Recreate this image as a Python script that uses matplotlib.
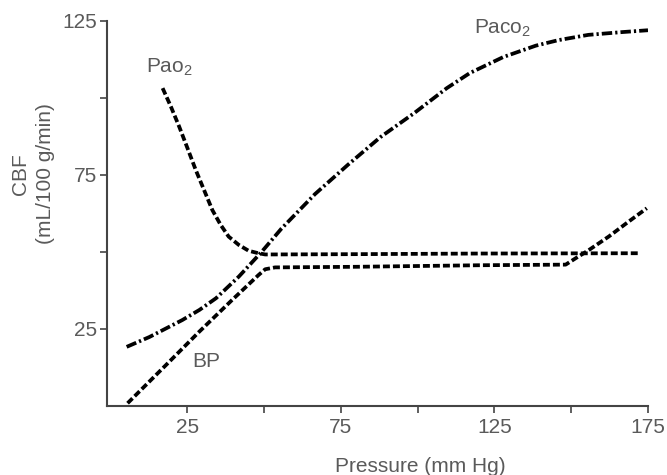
import matplotlib
matplotlib.use("Agg")
import matplotlib.pyplot as plt

# values
pao2_x = [17.0, 19.7, 22.4, 25.1, 27.8, 30.5, 33.2, 35.9, 38.5, 41.8, 45.0, 48.2, 50.4,
          80, 120, 172.5]
pao2_y = [103.2, 97.2, 90.7, 83.7, 76.6, 70.1, 63.6, 58.8, 55.0, 52.3, 50.4, 49.6, 49.2,
          49.3, 49.5, 49.6]

paco2_x = [5.3, 12.7, 23.4, 29.0, 34.4, 41.8, 49.2, 55.6, 66.6, 77.3, 87.9, 98.9, 109.5,
           117, 127.9, 138.5, 145.9, 155.6, 166.6, 175]
paco2_y = [19.2, 22.4, 27.9, 31.2, 35.0, 42.0, 50.0, 57.5, 68.8, 78.3, 87.3, 95.1, 103.2,
           108.1, 113.3, 117.0, 118.8, 120.5, 121.4, 122.0]

bp_x = [5.6, 18.1, 28.9, 39.6, 48.2, 50.4, 53.6, 80, 120, 148.2, 151.5, 155.7, 162.2,
        168.6, 174.6]
bp_y = [0.9, 13.3, 24.1, 34.4, 42.5, 44.4, 45.0, 45.2, 45.7, 45.9, 48.0, 50.6, 55.0,
        59.8, 64.2]

x_ticks = [25, 50, 75, 100, 125, 150, 175]
x_labels = ['25', '', '75', '', '125', '', '175']
y_ticks = [25, 50, 75, 100, 125]
y_labels = ['25', '', '75', '', '125']

plt.rcParams['font.family'] = ['Liberation Sans', 'DejaVu Sans']
plt.rcParams['mathtext.default'] = 'regular'
plt.rcParams['lines.scale_dashes'] = False

txt = '#5a5a5a'
fs = 15

fig = plt.figure(figsize=(6.67, 4.75), dpi=100)
ax = fig.add_axes([107 / 667, 69 / 475, (648 - 107) / 667, (454 - 69) / 475])

ax.plot(pao2_x, pao2_y, color='black', lw=2.7, dashes=(5, 2.2))
ax.plot(bp_x, bp_y, color='black', lw=2.7, dashes=(5, 2.2))
ax.plot(paco2_x, paco2_y, color='black', lw=2.7, dashes=(7.5, 2.2, 1.6, 2.2))

ax.set_xlim(-1.1, 175)
ax.set_ylim(0, 125)
ax.set_xticks(x_ticks)
ax.set_xticklabels(x_labels)
ax.set_yticks(y_ticks)
ax.set_yticklabels(y_labels)

for s in ['top', 'right']:
    ax.spines[s].set_visible(False)
for s in ['left', 'bottom']:
    ax.spines[s].set_color('#444444')
    ax.spines[s].set_linewidth(1.5)

ax.tick_params(direction='out', length=5, width=1.2, color='#444444',
               labelsize=fs, labelcolor=txt)
ax.tick_params(axis='x', pad=3.5)
ax.tick_params(axis='y', pad=2)

ax.text(11.5, 110, 'Pao$_2$', fontsize=fs, color=txt, ha='left', va='center')
ax.text(118.5, 122.5, 'Paco$_2$', fontsize=fs, color=txt, ha='left', va='center')
ax.text(26.6, 14.3, 'BP', fontsize=fs, color=txt, ha='left', va='center')

fig.text(420 / 667, 1 - 466 / 475, 'Pressure (mm Hg)', fontsize=fs, color=txt,
         ha='center', va='center')
fig.text(33 / 667, 1 - 174 / 475, 'CBF\n(mL/100 g/min)', fontsize=fs, color=txt,
         ha='center', va='center', rotation=90, linespacing=1.45, multialignment='center')

fig.savefig('out.png', dpi=100)
